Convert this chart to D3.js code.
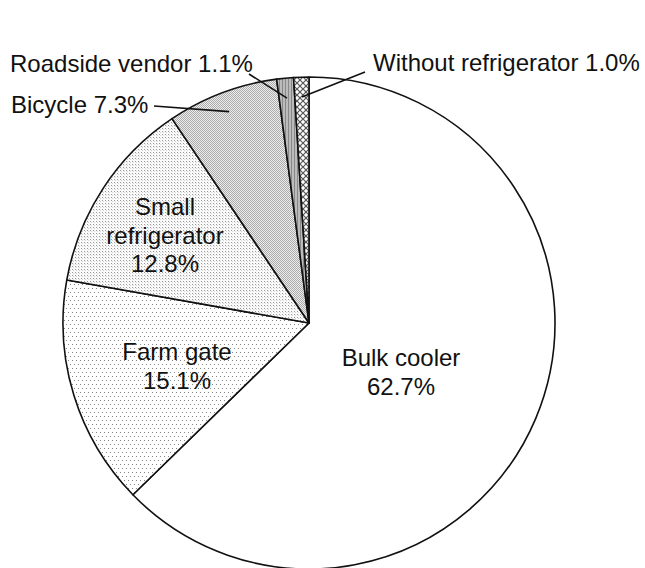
<!DOCTYPE html>
<html>
<head>
	<meta charset="utf-8">
	<script type="text/javascript" src="https://cdn.jsdelivr.net/npm/d3@7/dist/d3.min.js"></script>
	<style type="text/css">
		body { margin: 0; background: #fff; }
		.slice { stroke: #111; stroke-width: 1.6px; stroke-linejoin: round; }
		.lbl {
			font-family: "Liberation Sans", Arial, sans-serif;
			font-size: 24px;
			fill: #111;
		}
		.leader { stroke: #111; stroke-width: 1.6px; fill: none; }
	</style>
</head>
<body>
<script type="text/javascript">
	var width = 645;
	var height = 568;

	// data, clockwise from 12 o'clock
	var categories = ["Bulk cooler", "Farm gate", "Small refrigerator", "Bicycle", "Roadside vendor", "Without refrigerator"];
	var shares = [62.7, 15.1, 12.8, 7.3, 1.1, 1.0];
	var shareLabels = ["62.7%", "15.1%", "12.8%", "7.3%", "1.1%", "1.0%"];

	var cx = 309, cy = 323, radius = 246;

	// fill per slice (patterns defined below)
	var fills = ["#fff", "url(#pFarm)", "url(#pSmall)", "url(#pBike)", "url(#pRoad)", "url(#pNone)"];

	// labels inside slices: lines of text and centre position
	var inside = {
		"Bulk cooler": {x: 401, y: 366, lines: ["Bulk cooler", "62.7%"]},
		"Farm gate": {x: 177, y: 360, lines: ["Farm gate", "15.1%"]},
		"Small refrigerator": {x: 165, y: 215, lines: ["Small", "refrigerator", "12.8%"]}
	};
	// labels outside with a leader line
	var outside = {
		"Bicycle": {x: 11, y: 113, lx: 154, ly: 106},
		"Roadside vendor": {x: 10, y: 72, lx: 249, ly: 74},
		"Without refrigerator": {x: 373, y: 71, lx: 365, ly: 72}
	};

	var svg = d3.select("body")
		.append("svg")
		.attr("width", width)
		.attr("height", height);

	svg.append("rect").attr("width", width).attr("height", height).attr("fill", "#fff");

	var defs = svg.append("defs");

	//稀疏点
	var p1 = defs.append("pattern").attr("id", "pFarm")
		.attr("patternUnits", "userSpaceOnUse").attr("width", 8).attr("height", 8);
	p1.append("rect").attr("width", 8).attr("height", 8).attr("fill", "#fff");
	p1.append("rect").attr("x", 1).attr("y", 1).attr("width", 1).attr("height", 1).attr("fill", "#888");
	p1.append("rect").attr("x", 5).attr("y", 1).attr("width", 1).attr("height", 1).attr("fill", "#888");
	p1.append("rect").attr("x", 3).attr("y", 5).attr("width", 1).attr("height", 1).attr("fill", "#888");
	p1.append("rect").attr("x", 7).attr("y", 5).attr("width", 1).attr("height", 1).attr("fill", "#888");

	//密点
	var p2 = defs.append("pattern").attr("id", "pSmall")
		.attr("patternUnits", "userSpaceOnUse").attr("width", 3).attr("height", 3);
	p2.append("rect").attr("width", 3).attr("height", 3).attr("fill", "#fafafa");
	p2.append("rect").attr("width", 1).attr("height", 1).attr("fill", "#999");
	p2.append("rect").attr("x", 1).attr("y", 1).attr("width", 1).attr("height", 1).attr("fill", "#d4d4d4");

	//棋盘
	var p3 = defs.append("pattern").attr("id", "pBike")
		.attr("patternUnits", "userSpaceOnUse").attr("width", 2).attr("height", 2);
	p3.append("rect").attr("width", 2).attr("height", 2).attr("fill", "#eee");
	p3.append("rect").attr("width", 1).attr("height", 1).attr("fill", "#aaa");
	p3.append("rect").attr("x", 1).attr("y", 1).attr("width", 1).attr("height", 1).attr("fill", "#aaa");

	//竖线灰
	var p4 = defs.append("pattern").attr("id", "pRoad")
		.attr("patternUnits", "userSpaceOnUse").attr("width", 3).attr("height", 3);
	p4.append("rect").attr("width", 3).attr("height", 3).attr("fill", "#bbb");
	p4.append("rect").attr("width", 1).attr("height", 3).attr("fill", "#888");

	//网格
	var p5 = defs.append("pattern").attr("id", "pNone")
		.attr("patternUnits", "userSpaceOnUse").attr("width", 6).attr("height", 6);
	p5.append("rect").attr("width", 6).attr("height", 6).attr("fill", "#fff");
	p5.append("path").attr("d", "M0,0L6,6M6,0L0,6").attr("stroke", "#555").attr("stroke-width", 1.2);

	var pie = d3.pie().sort(null).value(function(d){ return d; });
	var arcs = pie(shares);

	var arc = d3.arc().innerRadius(0).outerRadius(radius);
	var tip = d3.arc().innerRadius(226).outerRadius(226);

	var g = svg.append("g").attr("transform", "translate(" + cx + "," + cy + ")");

	g.selectAll(".slice")
		.data(arcs)
		.enter()
		.append("path")
		.attr("class", "slice")
		.attr("d", arc)
		.attr("fill", function(d, i){ return fills[i]; });

	// inner labels
	categories.forEach(function(c, i){
		var L = inside[c];
		if (!L) return;
		var t = svg.append("text").attr("class", "lbl").attr("text-anchor", "middle");
		L.lines.forEach(function(s, k){
			t.append("tspan").attr("x", L.x).attr("y", L.y + k * 28.5).text(s);
		});
	});

	// outer labels + leaders
	categories.forEach(function(c, i){
		var L = outside[c];
		if (!L) return;
		svg.append("text").attr("class", "lbl").attr("x", L.x).attr("y", L.y)
			.text(c + " " + shareLabels[i]);
		var p = tip.centroid(arcs[i]);
		svg.append("line").attr("class", "leader")
			.attr("x1", L.lx).attr("y1", L.ly)
			.attr("x2", cx + p[0]).attr("y2", cy + p[1]);
	});
</script>
</body>
</html>
